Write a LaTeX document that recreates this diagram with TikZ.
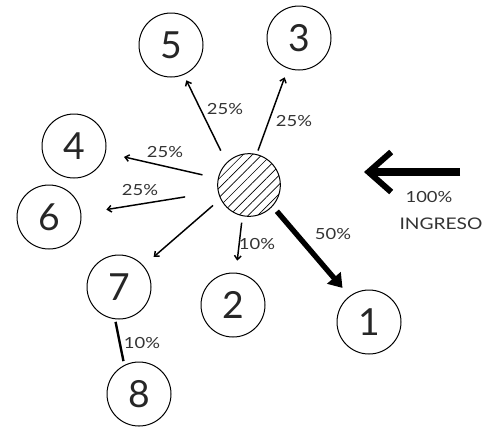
\documentclass[tikz,border=0pt]{standalone}
\usepackage{fontspec}
\setmainfont{Lato}
\newfontfamily\pctfont[FakeStretch=1.2]{Lato}
\usetikzlibrary{arrows.meta,patterns.meta}

\begin{document}
\begin{tikzpicture}[x=0.75pt,y=0.75pt,yscale=-1,xscale=1,
  station/.style={draw,circle,line width=0.75pt,minimum size=48pt,inner sep=0pt,text=black!85,font=\fontsize{28}{28}\selectfont},
  flow/.style={line width=1.1pt,-{Straight Barb[length=3pt,width=5pt]}},
  pct/.style={text=black!80,font=\pctfont\fontsize{11.5}{11.5}\selectfont}]
\useasboundingbox (0,0) rectangle (499,426);

%Shape: Circle (hatched)
\node [draw,circle,line width=0.75pt,minimum size=47pt,inner sep=0pt,pattern={Lines[angle=45,distance=5pt,line width=0.5pt]}] (hub) at (249,185) {};
%Shape: Circle
\node [station] (n5) at (171,45) {5};
\node [station] (n3) at (299,38) {3};
\node [station] (n4) at (74,146) {4};
\node [station] (n6) at (49,217) {6};
\node [station] (n7) at (119,287) {7};
\node [station] (n2) at (233,305) {2};
\node [station] (n1) at (369,322) {1};
\node [station] (n8) at (139,394) {8};

%Straight Lines
\draw [flow,shorten <=10pt,shorten >=4.5pt] (hub.135) -- (n5.-67);
\draw [flow,shorten <=3pt,shorten >=7pt] (hub.76) -- (n3.-110);
\draw [flow,shorten <=12pt,shorten >=14pt] (hub.168) -- (n4.-12);
\draw [flow,shorten <=25pt,shorten >=19pt] (hub.192) -- (n6.6);
\draw [flow,shorten <=7.5pt,shorten >=10pt] (hub.206) -- (n7.41);
\draw [flow,shorten <=5pt,shorten >=9pt] (hub.258) -- (n2.85);
\draw [line width=4pt,-{Triangle[length=10pt,width=13pt]},shorten <=5pt,shorten >=8pt] (hub.-42) -- (n1.127);
\draw [line width=1.8pt,shorten <=2pt,shorten >=3pt] (n7.-97) -- (n8.117);

%Left Arrow
\coordinate (ingresoA) at (460,172);
\coordinate (ingresoB) at (364,172);
\draw [line width=6pt,-{Straight Barb[length=17pt,width=30pt,line width=4.5pt]}] (ingresoA) -- (ingresoB);

% Text Node
\node [pct] (p5) at (225,109) {25\%};
\node [pct] (p3) at (294,121) {25\%};
\node [pct] (p4) at (165,152) {25\%};
\node [pct] (p6) at (140,190) {25\%};
\node [pct] (p2) at (257,244) {10\%};
\node [pct] (p1) at (333,234) {50\%};
\node [pct] (p8) at (142,343) {10\%};
% Text Node
\node [pct] (pin) at (429,197) {100\%};
\node [pct,font=\pctfont\fontsize{12}{12}\selectfont] (ingreso) at (441,224) {INGRESO};

\end{tikzpicture}
\end{document}
